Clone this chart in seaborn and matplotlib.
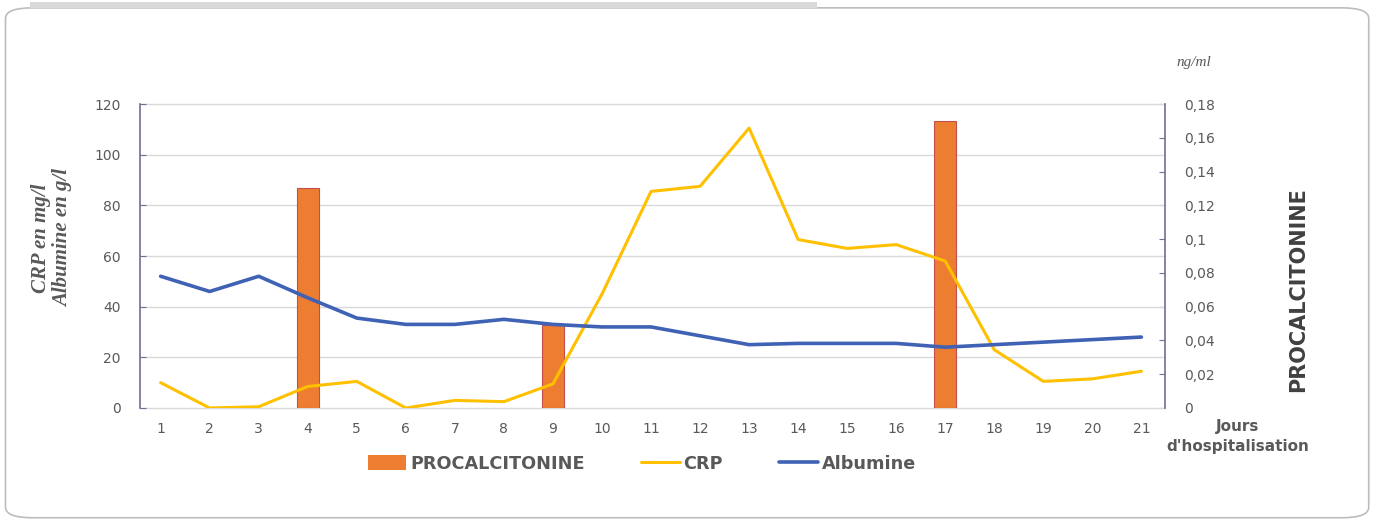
import numpy as np
import pandas as pd
import matplotlib
matplotlib.use("Agg")
import matplotlib.pyplot as plt
from matplotlib.patches import FancyBboxPatch, Patch
from matplotlib.lines import Line2D
import seaborn as sns

# Data (21 days of hospitalisation)
days = list(range(1, 22))
crp = [10, 0, 0.5, 8.5, 10.5, 0, 3, 2.5, 9.5, 45, 85.5, 87.5, 110.5, 66.5,
       63, 64.5, 58, 23, 10.5, 11.5, 14.5]
albumine = [52, 46, 52, 43.5, 35.5, 33, 33, 35, 33, 32, 32, 28.5, 25, 25.5,
            25.5, 25.5, 24, 25, 26, 27, 28]
procalcitonine = [np.nan, np.nan, np.nan, 0.13, np.nan, np.nan, np.nan, np.nan,
                  0.049, np.nan, np.nan, np.nan, np.nan, np.nan, np.nan, np.nan,
                  0.17, np.nan, np.nan, np.nan, np.nan]

df = pd.DataFrame({"jour": days, "CRP": crp, "Albumine": albumine,
                   "PROCALCITONINE": procalcitonine})

c_bar = "#ED7D31"
c_crp = "#FFC000"
c_alb = "#3F62B5"
c_spine = "#6E6E96"
c_text = "#595959"

sns.set_style("white")
plt.rcParams["font.family"] = ["DejaVu Sans"]

fig = plt.figure(figsize=(13.77, 5.23), dpi=100)

# rounded card frame
fig.patches.append(FancyBboxPatch((0.004, 0.01), 0.99, 0.975,
                                  boxstyle="round,pad=0,rounding_size=0.02",
                                  transform=fig.transFigure, fc="white",
                                  ec="#bdbdbd", lw=1.2, zorder=-2))
fig.patches.append(plt.Rectangle((0.022, 0.985), 0.571, 0.012,
                                 transform=fig.transFigure, fc="#d9d9d9",
                                 ec="none", zorder=-2))

ax = fig.add_axes([0.1017, 0.2199, 0.7443, 0.5812])
ax2 = ax.twinx()

# bars (right axis) behind, with the grid
sns.barplot(data=df, x="jour", y="PROCALCITONINE", native_scale=True,
            width=0.45, color=c_bar, edgecolor="#C0504D", linewidth=0.8,
            saturation=1, ax=ax2)
ax2.set_ylim(0, 0.18)
ax2.set_yticks(np.arange(0, 0.1801, 0.02))
ax2.set_yticklabels(["0"] + [f"{v:.2f}".rstrip("0").replace(".", ",")
                             for v in np.arange(0.02, 0.1801, 0.02)])
# grid follows the left scale (every 20 -> every 0.03)
ax2.yaxis.remove_overlapping_locs = False
ax2.set_yticks(np.arange(0, 0.1801, 0.03), minor=True)
ax2.grid(which="minor", axis="y", color="#d9d9d9", lw=1)
ax2.grid(which="major", visible=False)
for t in ax2.yaxis.get_minor_ticks():
    t.gridline.set_clip_on(False)
ax2.set_axisbelow(True)
ax2.set_ylabel("")
ax2.set_xlabel("")

# lines (left axis) on top
sns.lineplot(data=df, x="jour", y="CRP", color=c_crp, lw=2.2, ax=ax)
sns.lineplot(data=df, x="jour", y="Albumine", color=c_alb, lw=2.6, ax=ax)
ax.set_zorder(ax2.get_zorder() + 1)
ax.patch.set_visible(False)
ax.set_ylim(0, 120)
ax.set_yticks(range(0, 121, 20))
ax.set_xlim(0.58, 21.48)
ax.set_xticks(days)
ax.set_xlabel("")
ax.set_ylabel("")

for a in (ax, ax2):
    for s in ("top", "bottom"):
        a.spines[s].set_visible(False)
    a.spines["left"].set_color(c_spine)
    a.spines["right"].set_color(c_spine)
    a.spines["left"].set_linewidth(1.2)
    a.spines["right"].set_linewidth(1.2)
ax.spines["right"].set_visible(False)
ax2.spines["left"].set_visible(False)

ax.tick_params(axis="y", direction="in", length=4, color=c_spine,
               labelcolor=c_text, labelsize=10, pad=14)
ax.tick_params(axis="x", length=0, labelcolor=c_text, labelsize=10, pad=10)
ax2.tick_params(axis="y", which="major", direction="in", length=4,
                color=c_spine, labelcolor=c_text, labelsize=10, pad=14)
ax2.tick_params(axis="y", which="minor", length=0)

# axis texts
fig.text(0.038, 0.545, "CRP en mg/l\nAlbumine en g/l", rotation=90,
         ha="center", va="center", color=c_text, fontsize=15,
         family="Liberation Serif", style="italic", weight="bold",
         linespacing=1.15)
fig.text(0.943, 0.447, "PROCALCITONINE", rotation=90, ha="center",
         va="center", color="#404040", fontsize=15, weight="bold")
fig.text(0.867, 0.88, "ng/ml", ha="center", va="center", color=c_text,
         fontsize=11, family="Liberation Serif", style="italic")
fig.text(0.899, 0.165, "Jours\nd'hospitalisation", ha="center",
         va="center", color=c_text, fontsize=11, weight="bold",
         linespacing=1.45)

handles = [Patch(fc=c_bar, ec="none"),
           Line2D([], [], color=c_crp, lw=2.2),
           Line2D([], [], color=c_alb, lw=2.6)]
fig.legend(handles, ["PROCALCITONINE", "CRP", "Albumine"], loc="center",
           bbox_to_anchor=(0.466, 0.113), ncol=3, frameon=False,
           handlelength=2.2, handleheight=0.9, handletextpad=0.2,
           columnspacing=3.2, prop={"size": 12.7, "weight": "bold"},
           labelcolor=c_text)

fig.savefig("out.png", dpi=100)
